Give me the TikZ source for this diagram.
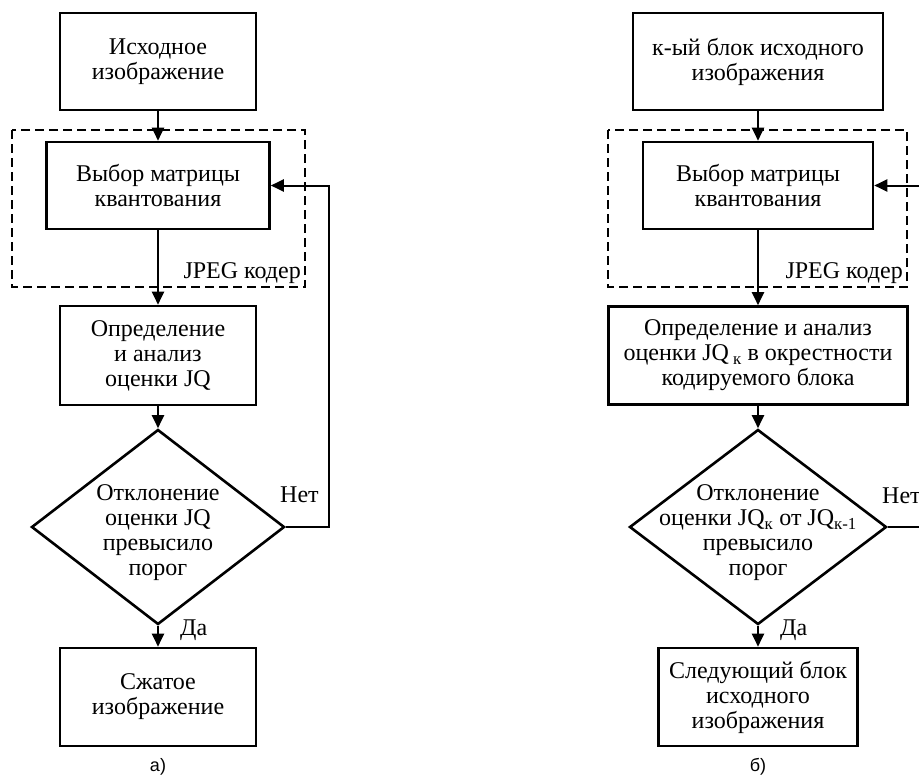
\documentclass[tikz,border=0pt]{standalone}
\usepackage{fontspec}
\setmainfont{Liberation Serif}
\newfontfamily\bukvafont{Liberation Sans}
\usetikzlibrary{shapes.geometric,arrows.meta}

\tikzset{
	blok/.style={draw, line width=2.6pt, align=center, inner sep=2pt, font=\fontsize{24}{25}\selectfont},
	romb/.style={draw, diamond, line width=2.6pt, inner sep=0pt, minimum width=#1, minimum height=195pt},
	tekst/.style={align=center, inner sep=0pt, font=\fontsize{24}{25}\selectfont},
	strelka/.style={-{Triangle[length=13pt,width=12pt]}, line width=2pt},
	koder/.style={dash pattern=on 9pt off 5pt, line width=2.1pt},
	bukva/.style={font=\bukvafont\fontsize{18}{20}\selectfont}
}

\begin{document}
\begin{tikzpicture}[x=1pt,y=-1pt]
\useasboundingbox (0,0) rectangle (919,776);

% Схема а)
	\draw[koder] (12,130) rectangle (305,287);
	\node[blok, minimum width=196pt, minimum height=97pt] (isx1) at (158,61.5) {Исходное\\изображение};
	\node[blok, minimum width=223pt, minimum height=87pt] (vybor1) at (158,185.5) {Выбор матрицы\\квантования};
	\node[tekst, anchor=base east] (jpeg1) at (301,278) {JPEG кодер};
	\node[blok, minimum width=196pt, minimum height=99pt] (opr1) at (158,355.5) {Определение\\и анализ\\оценки JQ};
	\node[romb=253pt, label={[tekst, name=txt1, yshift=-6pt]center:Отклонение\\оценки JQ\\превысило\\порог}] (rom1) at (158,527) {};
	\node[blok, minimum width=196pt, minimum height=98pt] (szh1) at (158,697) {Сжатое\\изображение};
	\node[bukva] (cap1) at (158,767) {а)};
	\coordinate (obr1) at (329,527);

	\draw[strelka] (isx1) -- (vybor1);
	\draw[strelka] (vybor1) -- (opr1);
	\draw[strelka] (opr1) -- (rom1);
	\draw[strelka] (rom1) -- (szh1);
	\draw[strelka] (rom1.east) -- (obr1) |- (vybor1.east);
	\node[tekst, anchor=base west] (net1) at (280,502) {Нет};
	\node[tekst, anchor=base west] (da1) at (180,635) {Да};

% Схема б)
	\draw[koder] (608,130) rectangle (907,287);
	\node[blok, minimum width=250pt, minimum height=97pt] (isx2) at (758,61.5) {к-ый блок исходного\\изображения};
	\node[blok, minimum width=230pt, minimum height=87pt] (vybor2) at (758,185.5) {Выбор матрицы\\квантования};
	\node[tekst, anchor=base east] (jpeg2) at (903,278) {JPEG кодер};
	\node[blok, minimum width=299pt, minimum height=98pt] (opr2) at (758,355.5) {Определение и анализ\\оценки JQ\,\textsubscript{к} в окрестности\\кодируемого блока};
	\node[romb=257pt, label={[tekst, name=txt2, yshift=-6pt]center:Отклонение\\оценки JQ\textsubscript{к} от JQ\textsubscript{к-1}\\превысило\\порог}] (rom2) at (758,527) {};
	\node[blok, minimum width=199pt, minimum height=98pt] (sled2) at (758,697) {Следующий блок\\исходного\\изображения};
	\node[bukva] (cap2) at (758,767) {б)};
	\coordinate (obr2) at (930,527);

	\draw[strelka] (isx2) -- (vybor2);
	\draw[strelka] (vybor2) -- (opr2);
	\draw[strelka] (opr2) -- (rom2);
	\draw[strelka] (rom2) -- (sled2);
	\draw[strelka] (rom2.east) -- (obr2) |- (vybor2.east);
	\node[tekst, anchor=base west] (net2) at (882,503) {Нет};
	\node[tekst, anchor=base west] (da2) at (780,635) {Да};
\end{tikzpicture}
\end{document}
